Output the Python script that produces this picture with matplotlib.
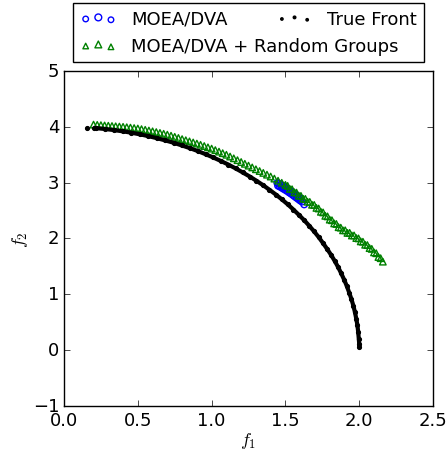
import matplotlib
matplotlib.use("Agg")
import matplotlib.pyplot as plt
from matplotlib.legend_handler import HandlerPathCollection

plt.style.use('classic')

# MOEA/DVA (blue circles)
dva_x = [1.445, 1.450, 1.455, 1.462, 1.468, 1.475, 1.480, 1.487, 1.493, 1.500,
         1.505, 1.512, 1.518, 1.525, 1.530, 1.537, 1.543, 1.550, 1.556, 1.562,
         1.568, 1.575, 1.581, 1.588, 1.594, 1.600, 1.606, 1.612, 1.627]
dva_y = [2.995, 2.945, 2.980, 2.930, 2.965, 2.910, 2.945, 2.890, 2.925, 2.870,
         2.905, 2.850, 2.880, 2.825, 2.860, 2.805, 2.835, 2.780, 2.810, 2.755,
         2.785, 2.730, 2.760, 2.705, 2.730, 2.680, 2.710, 2.660, 2.610]

# MOEA/DVA + Random Groups (green triangles)
rg_x = [0.200, 0.225, 0.250, 0.275, 0.300, 0.325, 0.350, 0.375, 0.400, 0.425,
        0.450, 0.475, 0.500, 0.525, 0.550, 0.575, 0.600, 0.625, 0.650, 0.675,
        0.700, 0.725, 0.750, 0.775, 0.800, 0.825, 0.850, 0.875, 0.900, 0.925,
        0.950, 0.975, 1.000, 1.025, 1.050, 1.075, 1.100, 1.125, 1.150, 1.175,
        1.200, 1.225, 1.250, 1.275, 1.300, 1.325, 1.350, 1.375, 1.400, 1.425,
        1.450, 1.475, 1.500,
        1.515, 1.530, 1.545, 1.560, 1.575, 1.590, 1.605, 1.620, 1.635, 1.650,
        1.665, 1.680, 1.695, 1.710, 1.725, 1.740, 1.755, 1.770, 1.785, 1.800,
        1.815, 1.830, 1.845, 1.860, 1.875, 1.890, 1.905, 1.920, 1.935, 1.950,
        1.965, 1.980, 1.995, 2.010, 2.025, 2.040, 2.055, 2.070, 2.085, 2.100,
        2.115, 2.130, 2.145, 2.160]
rg_y = [4.040, 4.035, 4.030, 4.025, 4.020, 4.015, 4.010, 4.005, 4.000, 3.993,
        3.986, 3.978, 3.970, 3.959, 3.947, 3.934, 3.920, 3.906, 3.891, 3.876,
        3.860, 3.841, 3.821, 3.801, 3.780, 3.760, 3.740, 3.720, 3.700, 3.678,
        3.656, 3.633, 3.610, 3.583, 3.556, 3.528, 3.500, 3.468, 3.436, 3.403,
        3.370, 3.338, 3.305, 3.273, 3.240, 3.208, 3.175, 3.143, 3.110, 3.073,
        3.035, 2.998, 2.960,
        2.942, 2.888, 2.882, 2.828, 2.822, 2.768, 2.763, 2.712, 2.709, 2.658,
        2.655, 2.604, 2.601, 2.548, 2.537, 2.478, 2.467, 2.406, 2.396, 2.338,
        2.327, 2.270, 2.260, 2.202, 2.194, 2.146, 2.147, 2.100, 2.101, 2.054,
        2.055, 2.008, 2.002, 1.948, 1.942, 1.888, 1.882, 1.828, 1.814, 1.751,
        1.736, 1.668, 1.647, 1.585]

# True Front (black dots)
tf_x = [0.154, 0.200, 0.220, 0.279, 0.338, 0.397, 0.456, 0.514, 0.572, 0.629,
        0.686, 0.742, 0.797, 0.852, 0.906, 0.959, 1.011, 1.062, 1.113, 1.162,
        1.210, 1.258, 1.304, 1.349, 1.392, 1.435, 1.476, 1.516, 1.554, 1.591,
        1.627, 1.661, 1.694, 1.725, 1.754, 1.782, 1.809, 1.834, 1.857, 1.878,
        1.898, 1.916, 1.932, 1.947, 1.960, 1.971, 1.980, 1.988, 1.993, 1.997,
        2.000, 2.000]
tf_y = [3.988, 3.980, 3.976, 3.961, 3.942, 3.920, 3.895, 3.866, 3.833, 3.797,
        3.757, 3.715, 3.668, 3.619, 3.566, 3.510, 3.451, 3.389, 3.324, 3.256,
        3.184, 3.110, 3.033, 2.954, 2.872, 2.787, 2.700, 2.610, 2.518, 2.423,
        2.327, 2.228, 2.127, 2.025, 1.920, 1.814, 1.707, 1.597, 1.487, 1.375,
        1.261, 1.147, 1.031, 0.915, 0.798, 0.680, 0.561, 0.442, 0.323, 0.203,
        0.110, 0.060]

fig = plt.figure(figsize=(4.48, 4.56), dpi=100)
ax = fig.add_axes([0.1429, 0.1075, 0.8237, 0.7346])

h1 = ax.scatter(dva_x, dva_y, s=22, marker='o', facecolors='none',
                edgecolors='b', linewidths=1.0, label='MOEA/DVA')
h2 = ax.scatter(rg_x, rg_y, s=22, marker='^', facecolors='none',
                edgecolors='g', linewidths=1.0, label='MOEA/DVA + Random Groups')
ax.plot(tf_x[2:], tf_y[2:], '-', color='k', lw=3, solid_capstyle='butt')
h3 = ax.scatter(tf_x, tf_y, s=30, marker='.', color='k', label='True Front')

ax.set_xlim(0.0, 2.5)
ax.set_ylim(-1, 5)
ax.set_xticks([0.0, 0.5, 1.0, 1.5, 2.0, 2.5])
ax.set_yticks([-1, 0, 1, 2, 3, 4, 5])
ax.tick_params(labelsize=13, pad=3.5)
ax.set_xlabel('$f_1$', fontsize=13, labelpad=1)
ax.set_ylabel('$f_2$', fontsize=13, labelpad=2)

ax.legend(handles=[h1, h2, h3], loc='lower left',
          bbox_to_anchor=(0.0, 1.0, 1.0, 0.1), mode='expand',
          ncol=2, fontsize=13, scatterpoints=3,
          handler_map={h1: HandlerPathCollection(sizes=[16, 24, 16]),
                       h2: HandlerPathCollection(sizes=[16, 24, 16]),
                       h3: HandlerPathCollection(sizes=[12, 14, 12])})

fig.savefig('out.png', dpi=100, facecolor='white')
